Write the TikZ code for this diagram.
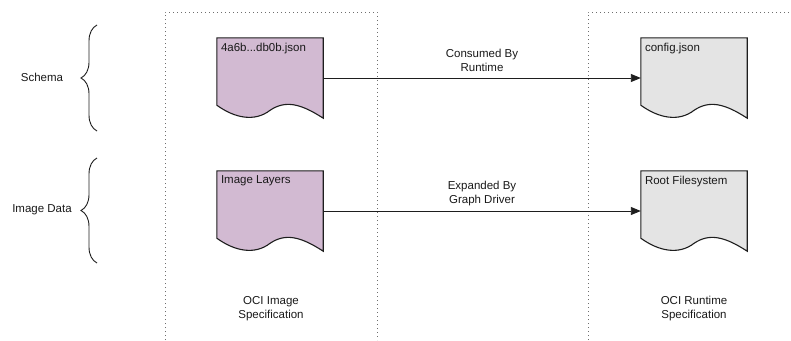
\documentclass[tikz,border=0pt]{standalone}
\usepackage{fontspec}
\setmainfont{Liberation Sans}
\usetikzlibrary{calc}
\usetikzlibrary{positioning}
\usetikzlibrary{arrows.meta}
\usetikzlibrary{decorations.pathreplacing}

\definecolor{imgfill}{RGB}{210,186,210}
\definecolor{rtfill}{RGB}{228,228,228}
\definecolor{inkline}{RGB}{30,30,30}
\definecolor{dotline}{RGB}{110,110,110}

\newcommand{\lblfont}{\fontsize{11.5}{14}\selectfont}

\tikzset{
    docnode/.style={minimum width=106pt, minimum height=80pt, inner sep=0pt},
    docline/.style={draw=inkline, line width=1.1pt},
    doclabel/.style={anchor=north west, inner sep=0pt, font=\lblfont, text=black!90},
    plainlabel/.style={align=center, font=\lblfont, text=black!90},
    specbox/.style={draw=dotline, line width=0.8pt, dash pattern=on 0.8pt off 3.2pt},
    flow/.style={draw=inkline, line width=0.9pt, -{Triangle[length=10pt, width=8pt]}},
    bracket/.style={draw=inkline, line width=0.9pt, decorate, decoration={brace, amplitude=16pt}}
}

% document shape with wavy bottom, drawn round a named node
\newcommand{\drawdoc}[2]{%
    \draw[docline, fill=#2] (#1.north west) -- (#1.north east) -- (#1.south east)
        .. controls ($(#1.south east)+(-23,-15)$) and ($(#1.south east)+(-38,-18)$) .. ($(#1.south east)+(-53,-8)$)
        .. controls ($(#1.south west)+(38,4)$) and ($(#1.south west)+(18,0)$) .. ($(#1.south west)+(0,-13)$)
        -- cycle;
}

\begin{document}
\begin{tikzpicture}[x=1pt, y=-1pt]
        \useasboundingbox (0,0) rectangle (791,340);

        % specification areas (dotted)
        \draw[specbox] (165,340) -- (165,12) -- (377,12) -- (377,340);
        \draw[specbox] (588,340) -- (588,12) -- (791,12);

        % documents
        \node[docnode] (schemadoc) at (270,78) {};
        \node[docnode] (layerdoc) at (270,211) {};
        \node[docnode] (configdoc) at (694,78) {};
        \node[docnode] (rootfsdoc) at (694,211) {};

        \drawdoc{schemadoc}{imgfill}
        \drawdoc{layerdoc}{imgfill}
        \drawdoc{configdoc}{rtfill}
        \drawdoc{rootfsdoc}{rtfill}

        \node[doclabel] (schemadoc-txt) at ([shift={(4,5)}]schemadoc.north west) {4a6b...db0b.json};
        \foreach \d/\t in {layerdoc/Image Layers, configdoc/config.json, rootfsdoc/Root Filesystem} {
            \node[doclabel] (\d-txt) at ([shift={(4,5)}]\d.north west) {\t};
        }

        % connectors
        \draw[flow] (schemadoc) -- node[plainlabel, above, inner sep=6pt] (consumed) {Consumed By\\Runtime} (configdoc);
        \draw[flow] (layerdoc) -- node[plainlabel, above, inner sep=5pt] (expanded) {Expanded By\\Graph Driver} (rootfsdoc);

        % rows on the left
        \node[plainlabel] (schema) at (42,77) {Schema};
        \node[plainlabel] (imgdata) at (42,210) {Image Data};

        \coordinate (schemabot) at (97,131);
        \coordinate (schematop) at (97,25);
        \coordinate (databot) at (97,263);
        \coordinate (datatop) at (97,158);
        \draw[bracket] (schemabot) -- (schematop);
        \draw[bracket] (databot) -- (datatop);

        % spec names
        \node[plainlabel] (imagespec) at (271,309) {OCI Image\\Specification};
        \node[plainlabel] (runtimespec) at (694,309) {OCI Runtime\\Specification};

    \end{tikzpicture}
\end{document}
